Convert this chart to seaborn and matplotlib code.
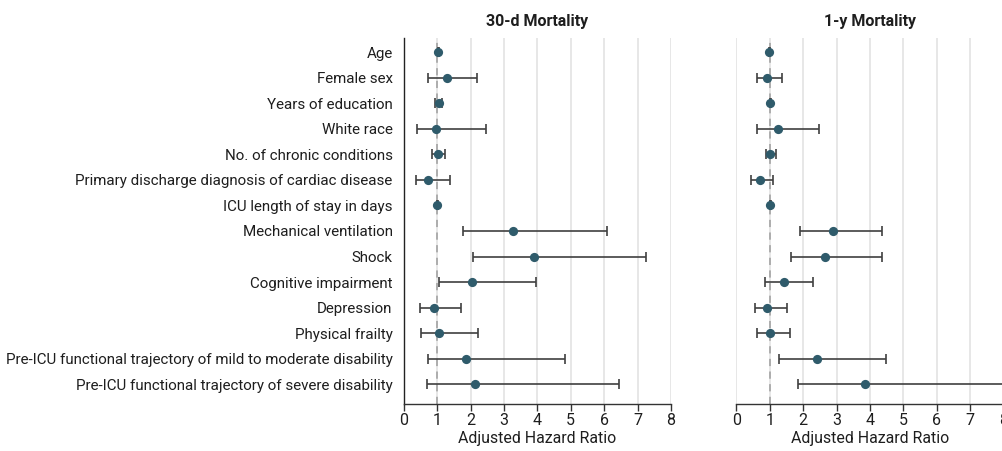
import numpy as np
import pandas as pd
import matplotlib
matplotlib.use("Agg")
import matplotlib.pyplot as plt
import seaborn as sns

labels = [
    "Age",
    "Female sex",
    "Years of education",
    "White race",
    "No. of chronic conditions",
    "Primary discharge diagnosis of cardiac disease",
    "ICU length of stay in days",
    "Mechanical ventilation",
    "Shock",
    "Cognitive impairment",
    "Depression",
    "Physical frailty",
    "Pre-ICU functional trajectory of mild to moderate disability",
    "Pre-ICU functional trajectory of severe disability",
]

hr_30d = [1.04, 1.29, 1.06, 0.96, 1.03, 0.72, 1.01, 3.28, 3.91, 2.05, 0.90, 1.06, 1.87, 2.13]
lo_30d = [1.02, 0.74, 0.94, 0.39, 0.85, 0.36, 1.00, 1.77, 2.08, 1.07, 0.48, 0.52, 0.74, 0.71]
hi_30d = [1.06, 2.20, 1.16, 2.45, 1.24, 1.38, 1.02, 6.09, 7.26, 3.97, 1.72, 2.21, 4.84, 6.43]

hr_1y = [0.99, 0.93, 1.02, 1.24, 1.02, 0.70, 1.02, 2.89, 2.66, 1.42, 0.93, 1.02, 2.40, 3.84]
lo_1y = [0.98, 0.63, 1.01, 0.62, 0.90, 0.45, 1.01, 1.90, 1.63, 0.86, 0.57, 0.61, 1.28, 1.84]
hi_1y = [1.00, 1.37, 1.03, 2.48, 1.20, 1.10, 1.03, 4.36, 4.37, 2.30, 1.51, 1.62, 4.48, 9.50]

titles = ["30-d Mortality", "1-y Mortality"]
xlabel = "Adjusted Hazard Ratio"
xticks = [0, 1, 2, 3, 4, 5, 6, 7, 8]

sns.set_theme(style="white")
plt.rcParams["font.family"] = ["Roboto", "DejaVu Sans"]

W, H = 1003, 451
fig = plt.figure(figsize=(W / 100, H / 100), dpi=100)

dot_color = "#2f5b6b"
ci_color = "#404040"
text_color = "#1e1e1e"

def make_ax(left_px, right_px):
    top_px, bot_px = 38, 403.7
    return fig.add_axes([left_px / W, 1 - bot_px / H, (right_px - left_px) / W, (bot_px - top_px) / H])

axes = [make_ax(403.7, 671.0), make_ax(736.3, 1003.7)]
series = [(hr_30d, lo_30d, hi_30d), (hr_1y, lo_1y, hi_1y)]

n = len(labels)
for i, (ax, (hr, lo, hi)) in enumerate(zip(axes, series)):
    df = pd.DataFrame({"label": labels, "hr": hr, "lo": lo, "hi": hi})
    df["pos"] = np.arange(n)
    for xv in xticks:
        ax.axvline(xv, color="#e3e3e3", lw=1.2, zorder=0)
    ax.axvline(1, color="#a8a8a8", lw=1.3, ls=(0, (4, 3)), zorder=1)
    ax.errorbar(df["hr"], df["pos"],
                xerr=[df["hr"] - df["lo"], df["hi"] - df["hr"]],
                fmt="none", ecolor=ci_color, elinewidth=1.2, capsize=3.8, capthick=1.2, zorder=2)
    sns.scatterplot(data=df, x="hr", y="pos", ax=ax, color=dot_color, s=44,
                    edgecolor=dot_color, linewidth=0, zorder=3, legend=False)
    ax.set_xlim(0, 8)
    ax.set_ylim(n - 1 + 0.76, -0.55)
    ax.set_xticks(xticks)
    ax.set_xticklabels([str(t) for t in xticks], fontsize=11.5, color=text_color)
    ax.set_xlabel(xlabel, fontsize=11.4, color=text_color, labelpad=2)
    ax.set_title(titles[i], fontsize=11.5, fontweight="bold", color=text_color, pad=9)
    ax.tick_params(axis="x", direction="out", length=5, width=1, color="#333333", pad=1.5, bottom=True)
    ax.grid(False)
    for s in ["top", "right"]:
        ax.spines[s].set_visible(False)
    ax.spines["bottom"].set_color("#333333")
    ax.spines["bottom"].set_linewidth(1.0)
    if i == 0:
        ax.spines["left"].set_color("#222222")
        ax.spines["left"].set_linewidth(1.0)
        ax.set_yticks(np.arange(n))
        ax.set_yticklabels(labels, fontsize=10.9, color=text_color)
        ax.tick_params(axis="y", length=0, pad=8)
    else:
        ax.spines["left"].set_visible(False)
        ax.set_yticks([])
    ax.set_ylabel("")
    ax.patch.set_alpha(0)

fig.savefig("out.png", dpi=100)
